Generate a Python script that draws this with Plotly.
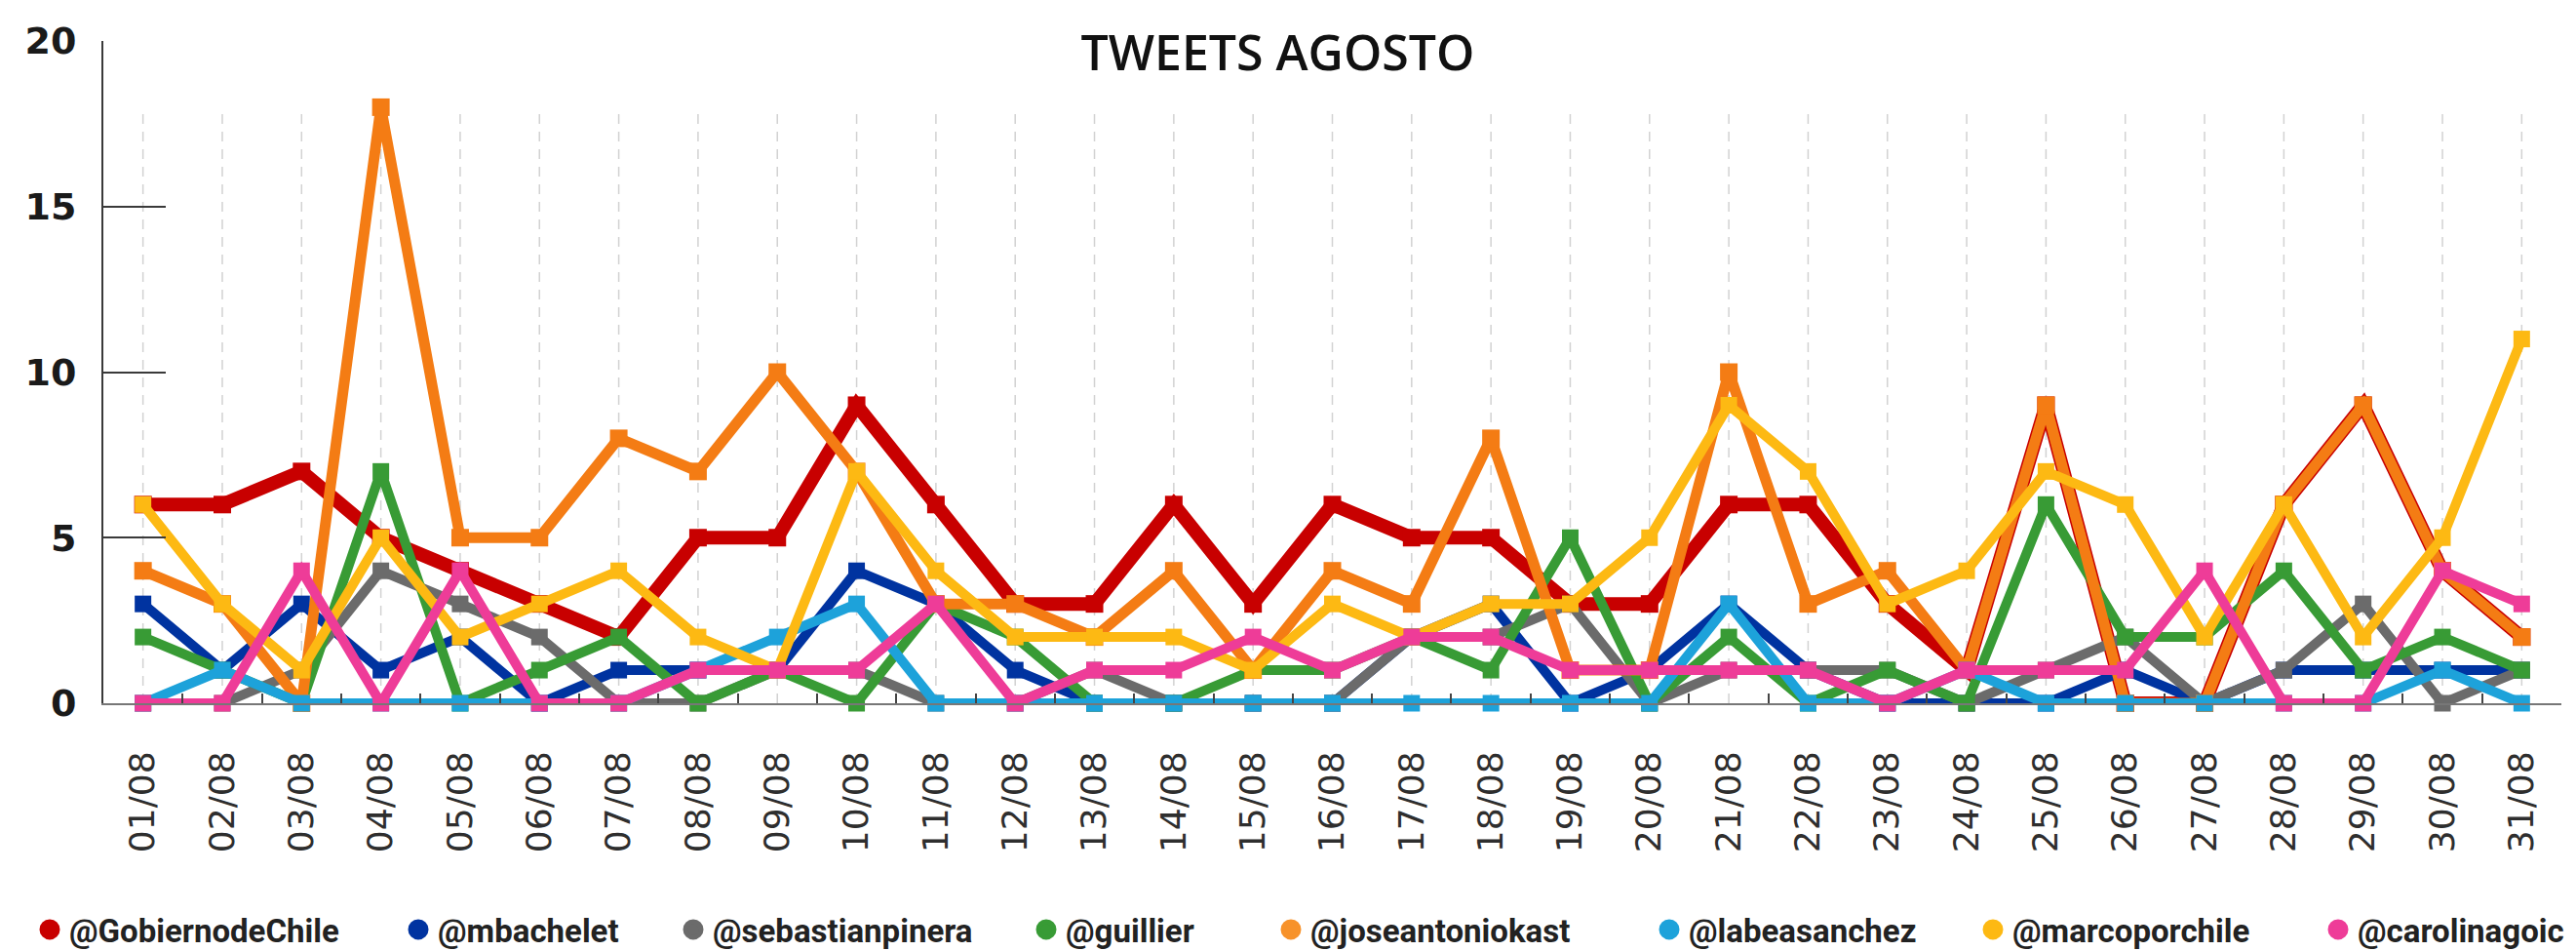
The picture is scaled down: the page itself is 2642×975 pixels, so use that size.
import plotly.graph_objects as go

dates = ["01/08", "02/08", "03/08", "04/08", "05/08", "06/08", "07/08", "08/08",
         "09/08", "10/08", "11/08", "12/08", "13/08", "14/08", "15/08", "16/08",
         "17/08", "18/08", "19/08", "20/08", "21/08", "22/08", "23/08", "24/08",
         "25/08", "26/08", "27/08", "28/08", "29/08", "30/08", "31/08"]

gobiernodechile = [6, 6, 7, 5, 4, 3, 2, 5, 5, 9, 6, 3, 3, 6, 3, 6, 5, 5, 3, 3, 6, 6, 3, 1, 9, 0, 0, 6, 9, 4, 2]
mbachelet = [3, 1, 3, 1, 2, 0, 1, 1, 1, 4, 3, 1, 0, 0, 0, 0, 2, 3, 0, 1, 3, 1, 0, 0, 0, 1, 0, 1, 1, 1, 1]
sebastianpinera = [0, 0, 1, 4, 3, 2, 0, 0, 1, 1, 0, 0, 1, 0, 0, 0, 2, 2, 3, 0, 1, 1, 1, 0, 1, 2, 0, 1, 3, 0, 1]
guillier = [2, 1, 0, 7, 0, 1, 2, 0, 1, 0, 3, 2, 0, 0, 1, 1, 2, 1, 5, 0, 2, 0, 1, 0, 6, 2, 2, 4, 1, 2, 1]
joseantoniokast = [4, 3, 0, 18, 5, 5, 8, 7, 10, 7, 3, 3, 2, 4, 1, 4, 3, 8, 1, 1, 10, 3, 4, 1, 9, 0, 0, 6, 9, 4, 2]
labeasanchez = [0, 1, 0, 0, 0, 0, 0, 1, 2, 3, 0, 0, 0, 0, 0, 0, 0, 0, 0, 0, 3, 0, 0, 1, 0, 0, 0, 0, 0, 1, 0]
marcoporchile = [6, 3, 1, 5, 2, 3, 4, 2, 1, 7, 4, 2, 2, 2, 1, 3, 2, 3, 3, 5, 9, 7, 3, 4, 7, 6, 2, 6, 2, 5, 11]
carolinagoic = [0, 0, 4, 0, 4, 0, 0, 1, 1, 1, 3, 0, 1, 1, 2, 1, 2, 2, 1, 1, 1, 1, 0, 1, 1, 1, 4, 0, 0, 4, 3]

names = ["@GobiernodeChile", "@mbachelet", "@sebastianpinera", "@guillier",
         "@joseantoniokast", "@labeasanchez", "@marcoporchile", "@carolinagoic"]
values = [gobiernodechile, mbachelet, sebastianpinera, guillier,
          joseantoniokast, labeasanchez, marcoporchile, carolinagoic]
colors = ["#C80000", "#0033A0", "#6B6B6B", "#389B35",
          "#F47C14", "#1DA2DA", "#FDB913", "#EE3C98"]
legend_colors = ["#C80000", "#0033A0", "#6B6B6B", "#389B35",
                 "#F7922A", "#1DA2DA", "#FDB913", "#EE3C98"]
widths = [14, 10, 10, 10, 11, 10, 10, 10]
msizes = [18, 17, 17, 17, 18, 17, 17, 17]

# left edge (px) of each legend entry
legend_left_px = [31, 409, 691, 1053, 1304, 1692, 2024, 2378]

W, H = 2642, 975
ML, MR, MT, MB = 106, 15, 42, 254
plot_w = W - ML - MR
plot_h = H - MT - MB

fig = go.Figure()

for d in dates:
    fig.add_shape(type="line", xref="x", yref="y", x0=d, x1=d, y0=0, y1=18,
                  line=dict(color="#D2D2D2", width=1.5, dash="10px,8px"), layer="below")

for name, vals, c, w, ms in zip(names, values, colors, widths, msizes):
    fig.add_trace(go.Scatter(
        x=dates, y=vals, mode="lines+markers", name=name,
        line=dict(color=c, width=w),
        marker=dict(symbol="square", size=ms, color=c),
        cliponaxis=False, showlegend=False, hoverinfo="x+y+name"))

legend_layout = {}
for i, (name, c, lx) in enumerate(zip(names, legend_colors, legend_left_px)):
    key = "legend" if i == 0 else f"legend{i + 1}"
    fig.add_trace(go.Scatter(
        x=[None], y=[None], mode="markers", name=name, legend=key,
        marker=dict(symbol="circle", size=24, color=c, line=dict(color=c, width=5)),
        showlegend=True))
    legend_layout[key] = dict(
        orientation="h", x=(lx - ML) / plot_w, xanchor="left",
        y=-(953 - (H - MB)) / plot_h, yanchor="middle",
        itemsizing="trace", bgcolor="rgba(0,0,0,0)",
        font=dict(family="Roboto", size=33, color="#222222", weight="bold"))

fig.update_layout(
    width=W, height=H,
    margin=dict(l=ML, r=MR, t=MT, b=MB, autoexpand=False),
    paper_bgcolor="white", plot_bgcolor="white",
    title=dict(text="TWEETS AGOSTO", x=0.496, xref="container", xanchor="center",
               y=0.944, yref="container", yanchor="middle",
               font=dict(family="Open Sans", size=50, color="#111111", weight=600)),
    xaxis=dict(type="category", range=[-0.5, 30.5], showgrid=False, zeroline=False,
               showline=True, linecolor="#777777", linewidth=2,
               ticks="inside", tickson="boundaries", ticklen=10, tickwidth=2,
               tickcolor="#444444", tickangle=-90, ticklabelstandoff=33,
               tickfont=dict(family="DejaVu Sans", size=36, color="#2E2E2E")),
    yaxis=dict(range=[0, 20], tickvals=[0, 5, 10, 15, 20], showgrid=False, zeroline=False,
               showline=True, linecolor="#3A3A3A", linewidth=2,
               ticks="inside", ticklen=64, tickwidth=2, tickcolor="#3A3A3A",
               ticklabelstandoff=18,
               tickfont=dict(family="DejaVu Sans", size=38, color="#1A1A1A", weight="bold")),
    showlegend=True,
    **legend_layout,
)

fig.write_html("out.html", config={"displayModeBar": False},
               post_script="document.body.style.margin='0';")
